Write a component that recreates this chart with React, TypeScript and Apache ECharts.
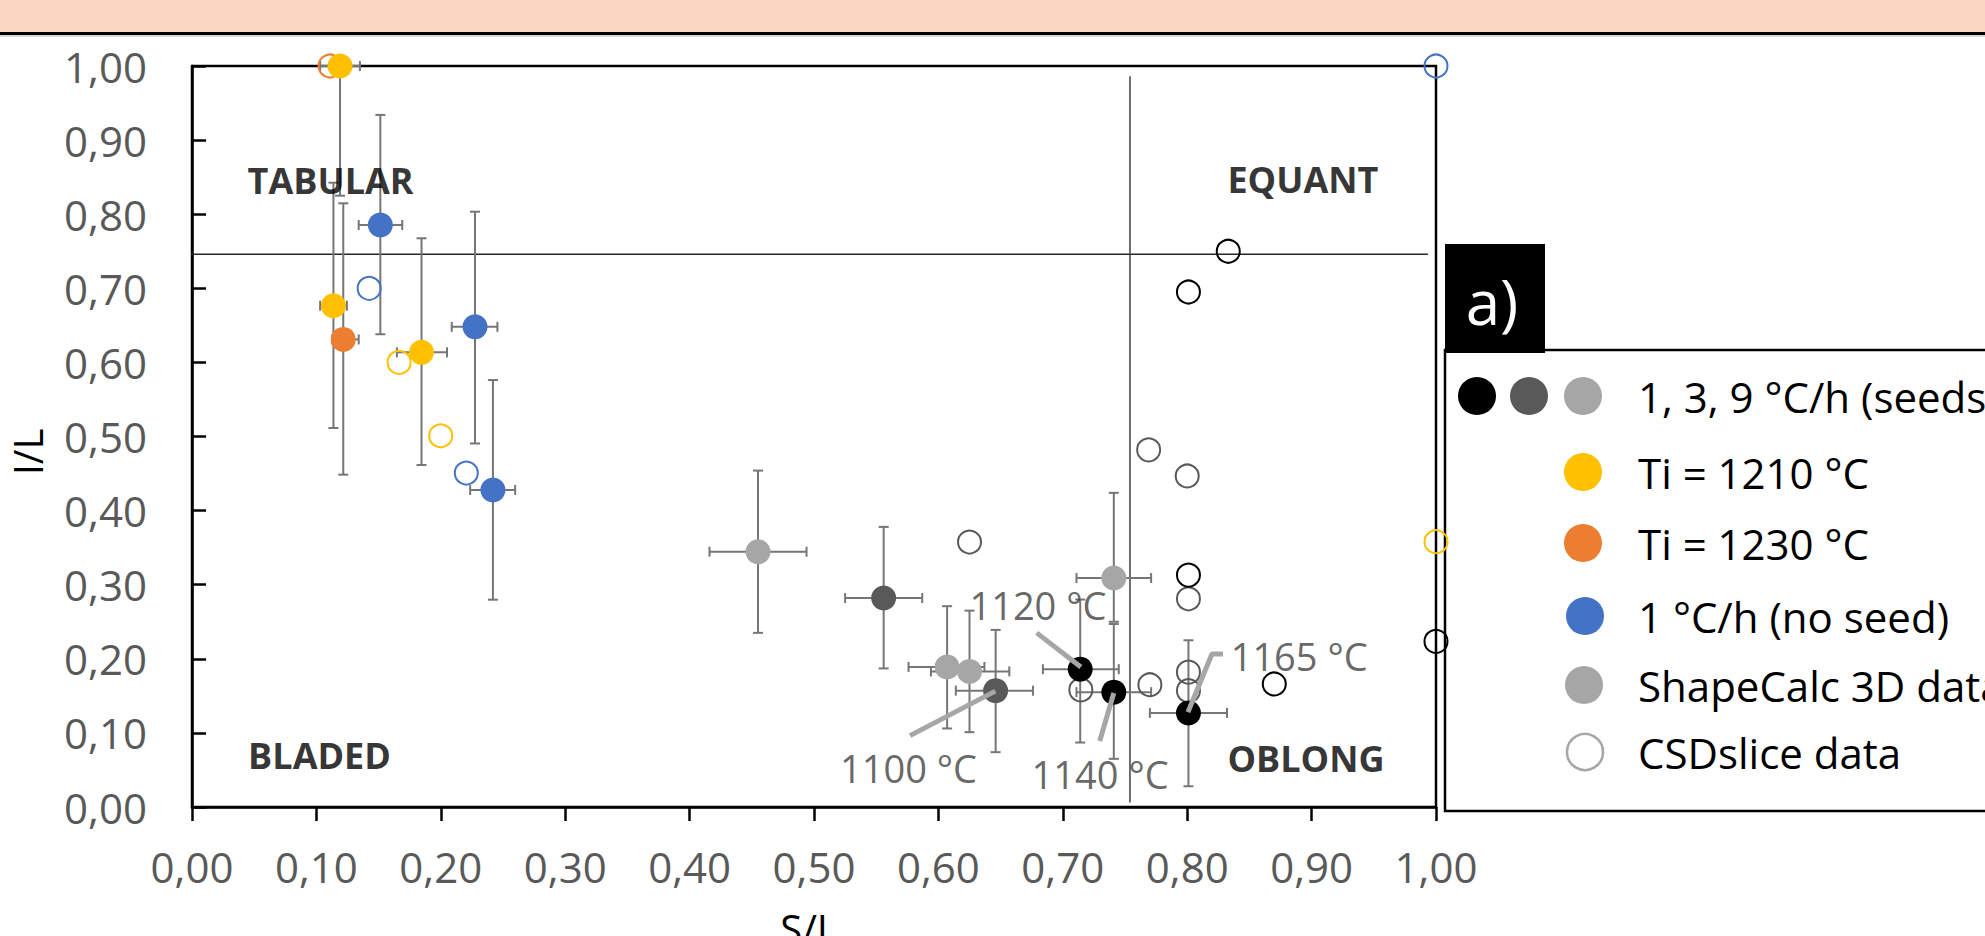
import React, { useEffect, useRef } from 'react';
import * as echarts from 'echarts';

const FONT = '"Open Sans", "Noto Sans", sans-serif';

// ---------- data (S/L, I/L) ----------
// 1 °C/h (seeds) – black
const seed1Pts = [[0.714, 0.186], [0.741, 0.155], [0.801, 0.127]];
const seed1XErr = [[0.684, 0.745], [0.711, 0.771], [0.770, 0.832]];
const seed1YErr = [[0.087, 0.28], [0.065, 0.247], [0.028, 0.225]];
// 3 °C/h (seeds) – dark grey
const seed3Pts = [[0.556, 0.282], [0.646, 0.157]];
const seed3XErr = [[0.525, 0.587], [0.614, 0.676]];
const seed3YErr = [[0.187, 0.378], [0.074, 0.239]];
// 9 °C/h (seeds) – light grey
const seed9Pts = [[0.455, 0.3445], [0.607, 0.189], [0.625, 0.183], [0.741, 0.309]];
const seed9XErr = [[0.416, 0.494], [0.576, 0.637], [0.594, 0.657], [0.711, 0.771]];
const seed9YErr = [[0.235, 0.454], [0.106, 0.271], [0.101, 0.265], [0.25, 0.424]];
// Ti = 1210 °C – yellow
const ti1210Pts = [[0.119, 1.0], [0.1137, 0.6765], [0.1845, 0.6136]];
const ti1210XErr = [[0.103, 0.135], [0.103, 0.1245], [0.1647, 0.205]];
const ti1210YErr = [[0.825, 1.0], [0.5115, 0.8425], [0.4615, 0.7675]];
// Ti = 1230 °C – orange
const ti1230Pts = [[0.1216, 0.631]];
const ti1230XErr = [[0.1127, 0.134]];
const ti1230YErr = [[0.4485, 0.8147]];
// 1 °C/h (no seed) – blue
const noSeedPts = [[0.1514, 0.7854], [0.2275, 0.648], [0.2419, 0.4278]];
const noSeedXErr = [[0.134, 0.169], [0.2088, 0.2455], [0.2236, 0.2598]];
const noSeedYErr = [[0.638, 0.934], [0.4906, 0.8034], [0.2798, 0.5762]];

// CSDslice data (open circles)
const csdOrange = [[0.111, 1.0]];
const csdYellow = [[0.1665, 0.6], [0.1999, 0.501], [1.0, 0.358]];
const csdBlue = [[0.1424, 0.7], [0.2205, 0.4507], [1.0, 1.0]];
const csdBlack = [[0.833, 0.75], [0.801, 0.695], [0.801, 0.313], [0.87, 0.166], [1.0, 0.2235]];
const csdGrey = [[0.769, 0.482], [0.8, 0.4467], [0.625, 0.3576], [0.801, 0.281], [0.801, 0.182], [0.801, 0.157], [0.77, 0.165], [0.7145, 0.158]];

// shape-class boundaries
const boundaryH = [[-0.003, 0.746], [0.9935, 0.746]];
const boundaryV = [[0.754, 0.006], [0.754, 0.986]];

// temperature annotations
const tempLabels = ['1100 °C', '1120 °C', '1140 °C', '1165 °C'];
const tempLabelAt = [[0.576, 0.0526], [0.68, 0.2726], [0.73, 0.0445], [0.89, 0.2038]];
const leaderLines = [
  [[0.5772, 0.0963], [0.6457, 0.1564]],
  [[0.679, 0.235], [0.7145, 0.189]],
  [[0.7297, 0.089], [0.741, 0.1538]],
  [[0.8006, 0.128], [0.8199, 0.2065], [0.8288, 0.2065]],
];

// shape classes
const shapeNames = ['TABULAR', 'EQUANT', 'BLADED', 'OBLONG'];
const shapeAt = [[0.1114, 0.846], [0.893, 0.8475], [0.1025, 0.07], [0.8955, 0.066]];

// legend
const legendLabels = ['1, 3, 9 °C/h (seeds)', 'Ti = 1210 °C', 'Ti = 1230 °C', '1 °C/h (no seed)', 'ShapeCalc 3D data', 'CSDslice data'];

const BLACK = '#000000';
const DGREY = '#595959';
const LGREY = '#A6A6A6';
const YELLOW = '#FFC000';
const ORANGE = '#ED7D31';
const BLUE = '#4472C4';

function errData(pts: number[][], xe: number[][], ye: number[][]) {
  return pts.map((p, i) => [p[0], p[1], xe[i][0], xe[i][1], ye[i][0], ye[i][1]]);
}

const errAll = [
  ...errData(seed1Pts, seed1XErr, seed1YErr),
  ...errData(seed3Pts, seed3XErr, seed3YErr),
  ...errData(seed9Pts, seed9XErr, seed9YErr),
  ...errData(ti1210Pts, ti1210XErr, ti1210YErr),
  ...errData(ti1230Pts, ti1230XErr, ti1230YErr),
  ...errData(noSeedPts, noSeedXErr, noSeedYErr),
];

const fmt = (v: number) => v.toFixed(2).replace('.', ',');

function filled(name: string, data: number[][], color: string) {
  return {
    type: 'scatter', name, data, symbol: 'circle', symbolSize: 25, clip: false, z: 4,
    itemStyle: { color, opacity: 1 },
  };
}
function open(name: string, data: number[][], color: string) {
  return {
    type: 'scatter', name, data, symbol: 'circle', symbolSize: 23, clip: false, z: 4,
    itemStyle: { color: 'rgba(255,255,255,0)', borderColor: color, borderWidth: 2, opacity: 1 },
  };
}

function buildOption() {
  const series: any[] = [];
  series.push({
    type: 'line', data: boundaryH, symbol: 'none', clip: false, z: 1,
    lineStyle: { color: '#262626', width: 1.5 },
  });
  series.push({
    type: 'line', data: boundaryV, symbol: 'none', clip: false, z: 1,
    lineStyle: { color: '#404040', width: 1.5 },
  });
  series.push({
    type: 'custom', z: 2, clip: false,
    data: errAll,
    encode: { x: [0, 2, 3], y: [1, 4, 5] },
    renderItem: (params: any, api: any) => {
      const x = api.value(0), y = api.value(1);
      const xl = api.value(2), xh = api.value(3), yl = api.value(4), yh = api.value(5);
      const c = api.coord([x, y]);
      const a = api.coord([xl, y]);
      const b = api.coord([xh, y]);
      const lo = api.coord([x, yl]);
      const hi = api.coord([x, yh]);
      const cap = 5;
      const style = { stroke: '#767676', lineWidth: 2 };
      const L = (x1: number, y1: number, x2: number, y2: number) => ({ type: 'line', shape: { x1, y1, x2, y2 }, style });
      return {
        type: 'group',
        children: [
          L(a[0], c[1], b[0], c[1]),
          L(a[0], c[1] - cap, a[0], c[1] + cap),
          L(b[0], c[1] - cap, b[0], c[1] + cap),
          L(c[0], lo[1], c[0], hi[1]),
          L(c[0] - cap, lo[1], c[0] + cap, lo[1]),
          L(c[0] - cap, hi[1], c[0] + cap, hi[1]),
        ],
      };
    },
  });
  series.push(open('CSD grey', csdGrey, DGREY));
  series.push(open('CSD black', csdBlack, BLACK));
  series.push(open('CSD orange', csdOrange, ORANGE));
  series.push(open('CSD yellow', csdYellow, YELLOW));
  series.push(open('CSD blue', csdBlue, BLUE));
  series.push(filled('9 °C/h', seed9Pts, LGREY));
  series.push(filled('3 °C/h', seed3Pts, DGREY));
  series.push(filled('1 °C/h', seed1Pts, BLACK));
  series.push(filled('Ti = 1210 °C', ti1210Pts, YELLOW));
  series.push(filled('Ti = 1230 °C', ti1230Pts, ORANGE));
  series.push(filled('1 °C/h (no seed)', noSeedPts, BLUE));
  leaderLines.forEach((seg) => {
    series.push({
      type: 'line', data: seg, symbol: 'none', clip: false, z: 6,
      lineStyle: { color: LGREY, width: 5 },
    });
  });
  series.push({
    type: 'scatter', z: 7, symbolSize: 1, clip: false,
    itemStyle: { color: 'rgba(0,0,0,0)' },
    data: tempLabels.map((t, i) => ({ name: t, value: tempLabelAt[i] })),
    label: {
      show: true, position: 'inside', formatter: (p: any) => p.name,
      color: '#404040', fontSize: 38, fontFamily: FONT,
    },
  });
  series.push({
    type: 'scatter', z: 7, symbolSize: 1, clip: false,
    itemStyle: { color: 'rgba(0,0,0,0)' },
    data: shapeNames.map((t, i) => ({ name: t, value: shapeAt[i] })),
    label: {
      show: true, position: 'inside', formatter: (p: any) => p.name,
      color: '#000', fontSize: 36, fontWeight: 'bold', fontFamily: FONT,
    },
  });

  // legend drawn as graphic
  const rowY = [396, 472, 543, 616, 685, 752];
  const graphic: any[] = [
    { type: 'rect', shape: { x: 0, y: 0, width: 1985, height: 33 }, style: { fill: '#FBD7C1' }, z: 0 },
    { type: 'line', shape: { x1: 0, y1: 33.5, x2: 1985, y2: 33.5 }, style: { stroke: '#000', lineWidth: 3 } },
    { type: 'line', shape: { x1: 0, y1: 36, x2: 1985, y2: 36 }, style: { stroke: '#C8C8C8', lineWidth: 1.5 } },
    {
      type: 'polyline',
      shape: { points: [[1995, 350], [1445, 350], [1445, 811], [1995, 811]] },
      style: { stroke: '#000', lineWidth: 2.5, fill: null },
    },
    { type: 'rect', shape: { x: 1445, y: 244, width: 100, height: 109 }, style: { fill: '#000' } },
    {
      type: 'text', x: 1492, y: 301,
      style: { text: 'a)', fill: '#fff', fontSize: 62, fontFamily: FONT, align: 'center', verticalAlign: 'middle' },
    },
    { type: 'circle', shape: { cx: 1477, cy: rowY[0], r: 19 }, style: { fill: BLACK } },
    { type: 'circle', shape: { cx: 1529, cy: rowY[0], r: 19 }, style: { fill: DGREY } },
    { type: 'circle', shape: { cx: 1583, cy: rowY[0], r: 19 }, style: { fill: LGREY } },
    { type: 'circle', shape: { cx: 1583, cy: rowY[1], r: 19 }, style: { fill: YELLOW } },
    { type: 'circle', shape: { cx: 1583, cy: rowY[2], r: 19 }, style: { fill: ORANGE } },
    { type: 'circle', shape: { cx: 1585, cy: rowY[3], r: 19 }, style: { fill: BLUE } },
    { type: 'circle', shape: { cx: 1584, cy: rowY[4], r: 19 }, style: { fill: LGREY } },
    { type: 'circle', shape: { cx: 1585, cy: rowY[5], r: 18 }, style: { fill: '#fff', stroke: LGREY, lineWidth: 2.5 } },
    ...legendLabels.map((t, i) => ({
      type: 'text', x: 1638, y: rowY[i],
      style: { text: t, fill: '#000', fontSize: 42, fontFamily: FONT, align: 'left', verticalAlign: 'middle' },
    })),
    {
      type: 'text', x: 27, y: 452, rotation: Math.PI / 2,
      style: { text: 'I/L', fill: '#000', fontSize: 40, fontFamily: FONT, align: 'center', verticalAlign: 'middle' },
    },
    {
      type: 'text', x: 809, y: 928,
      style: { text: 'S/L', fill: '#000', fontSize: 40, fontFamily: FONT, align: 'center', verticalAlign: 'middle' },
    },
  ];

  return {
    animation: false,
    backgroundColor: '#fff',
    grid: { left: 192, right: 549, top: 66, bottom: 129, show: true, borderColor: '#000', borderWidth: 2.5, backgroundColor: 'rgba(0,0,0,0)' },
    xAxis: {
      type: 'value', min: 0, max: 1, interval: 0.1,
      axisLine: { show: true, lineStyle: { color: '#000', width: 2.5 } },
      axisTick: { show: true, inside: false, length: 14, lineStyle: { color: '#000', width: 2.5 } },
      splitLine: { show: false },
      axisLabel: { formatter: fmt, color: '#595959', fontSize: 42, fontFamily: FONT, margin: 38 },
    },
    yAxis: {
      type: 'value', min: 0, max: 1, interval: 0.1,
      axisLine: { show: true, lineStyle: { color: '#000', width: 2.5 } },
      axisTick: { show: true, inside: true, length: 14, lineStyle: { color: '#000', width: 2.5 } },
      splitLine: { show: false },
      axisLabel: { formatter: fmt, color: '#595959', fontSize: 42, fontFamily: FONT, margin: 45 },
    },
    series,
    graphic,
  };
}

export default function App() {
  const ref = useRef<HTMLDivElement>(null);
  useEffect(() => {
    const chart = echarts.init(ref.current!, null, { renderer: 'svg' });
    chart.setOption(buildOption() as any);
    return () => chart.dispose();
  }, []);
  return (
    <div
      ref={ref}
      style={{ position: 'fixed', left: 0, top: 0, width: 1985, height: 936, background: '#fff' }}
    />
  );
}
